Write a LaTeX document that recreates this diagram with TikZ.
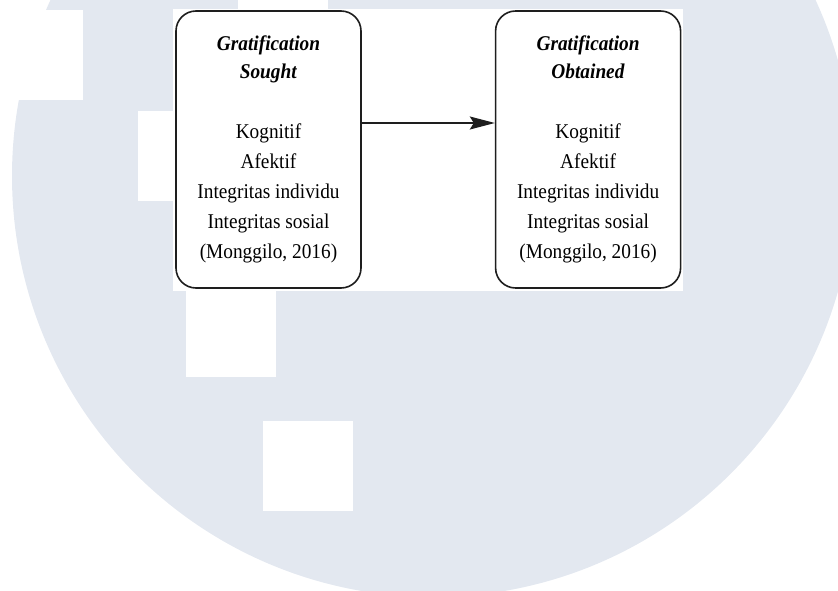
\documentclass[tikz,border=0pt]{standalone}
\usepackage{fontspec}
\setmainfont{Liberation Serif}[FakeStretch=0.92]
\usetikzlibrary{arrows.meta,positioning}
\definecolor{wmark}{RGB}{227,232,240}
\definecolor{boxline}{RGB}{30,30,30}

\begin{document}
\begin{tikzpicture}[x=1pt,y=-1pt,
  gratbox/.style={draw=boxline,line width=1.6pt,rounded corners=20pt,fill=white,
    minimum width=185pt,minimum height=277pt,inner sep=0pt,align=center,
    font=\fontsize{21}{30}\selectfont}]

  \useasboundingbox (0,0) rectangle (838,591);
  \clip (0,0) rectangle (838,591);

  % watermark behind the figure
  \fill[wmark] (433,176) circle [radius=421];
  \fill[white] (-7,10) rectangle (83,100);
  \fill[white] (138,111) rectangle (228,201);
  \fill[white] (238,-80) rectangle (328,10);
  \fill[white] (186,287) rectangle (276,377);
  \fill[white] (263,421) rectangle (353,511);

  % white page of the figure
  \fill[white] (173,9) rectangle (683,291);

  % Boxes
  \node[gratbox] (sought) at (268.5,149.5)
    {\textbf{\textit{Gratification}}\\[-2pt] \textbf{\textit{Sought}}\\[30pt]
     Kognitif\\ Afektif\\ Integritas individu\\ Integritas sosial\\ (Monggilo, 2016)};
  \node[gratbox,right=133pt of sought] (obtained)
    {\textbf{\textit{Gratification}}\\[-2pt] \textbf{\textit{Obtained}}\\[30pt]
     Kognitif\\ Afektif\\ Integritas individu\\ Integritas sosial\\ (Monggilo, 2016)};

  % Connection
  \draw[-{Stealth[length=25pt,width=13pt,inset=4pt]},line width=1.5pt,boxline]
    ([yshift=26.5pt]sought.east) -- ([yshift=26.5pt]obtained.west);
\end{tikzpicture}
\end{document}
